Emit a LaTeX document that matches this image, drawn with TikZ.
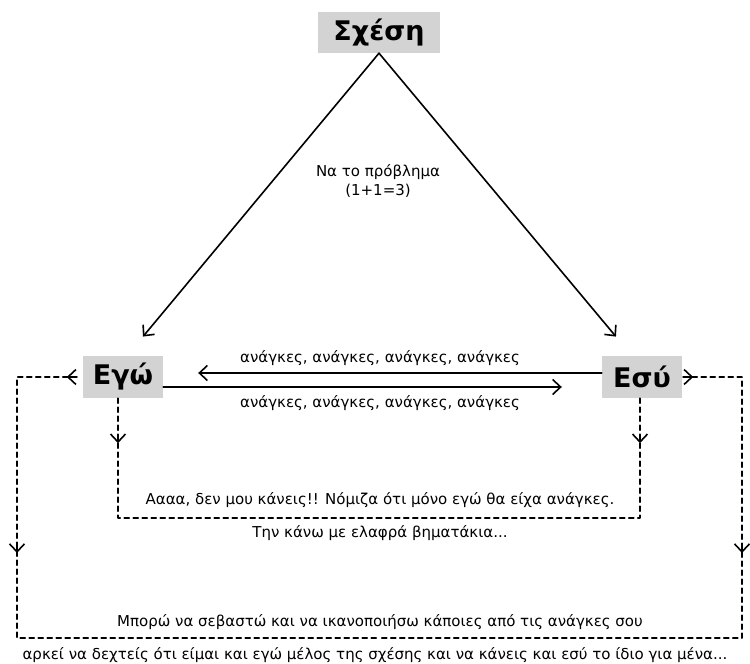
\documentclass[tikz,border=0pt]{standalone}
\usepackage{fontspec}
\setmainfont{DejaVu Sans}
\usetikzlibrary{arrows.meta}

\definecolor{boxgray}{RGB}{211,211,211}
\tikzset{
  person/.style={fill=boxgray, minimum width=80pt, minimum height=42pt, inner sep=0pt,
    font=\fontsize{27}{30}\selectfont\bfseries},
  msg/.style={inner sep=1pt, font=\fontsize{15}{19}\selectfont},
  solidline/.style={line width=1.6pt},
  dashline/.style={line width=1.6pt, dash pattern=on 5pt off 4pt},
  midtip/.style={solid, line width=1.6pt, ->}
}

\begin{document}
\begin{tikzpicture}[x=1pt, y=1pt, line join=round, line cap=round,
    >={Straight Barb[length=8pt,width=15pt]}]
  \useasboundingbox (0,0) rectangle (750,664);
  % the three boxes
  \node[person, minimum width=122pt, minimum height=41pt] (rel) at (379,631.5) {Σχέση};
  \node[person] (ego) at (123,287) {Εγώ};
  \node[person] (esu) at (642,287) {Εσύ};
  \coordinate (innermid) at (380,146);
  \coordinate (outerleft) at (17,26);
  \coordinate (outerright) at (742,26);
  \coordinate (outermid) at (380,26);

  % triangle
  \draw[->, solidline, shorten >=25pt] (rel.south) -- ([xshift=4]ego.north);
  \draw[->, solidline, shorten >=25pt] (rel.south) -- ([xshift=-10]esu.north);
  \node[msg, align=center] (problem) at (378,483) {Να το πρόβλημα\\(1+1=3)};

  % needs both ways
  \draw[->, solidline, shorten >=35pt] ([yshift=4]esu.west) -- ([yshift=4]ego.east);
  \draw[->, solidline, shorten >=40pt] ([yshift=-10]ego.east) -- ([yshift=-10]esu.west);
  \node[msg] (needsa) at (380,306) {ανάγκες, ανάγκες, ανάγκες, ανάγκες};
  \node[msg] (needsb) at (380,261) {ανάγκες, ανάγκες, ανάγκες, ανάγκες};

  % inner loop
  \draw[dashline] ([xshift=-5]ego.south) |- (innermid);
  \draw[dashline] ([xshift=-2]esu.south) |- (innermid);
  \draw[midtip] ([xshift=-5,yshift=-37]ego.south) -- ([xshift=-5,yshift=-45]ego.south);
  \draw[midtip] ([xshift=-2,yshift=-37]esu.south) -- ([xshift=-2,yshift=-45]esu.south);
  \node[msg] (aaaa) at (380,164) {Αααα, δεν μου κάνεις!! Νόμιζα ότι μόνο εγώ θα είχα ανάγκες.};
  \node[msg] (steps) at (380,131) {Την κάνω με ελαφρά βηματάκια...};

  % outer loop
  \draw[dashline] ([xshift=-6]ego.west) -| (outerleft) -- (outermid);
  \draw[dashline] ([xshift=1]esu.east) -| (outerright) -- (outermid);
  \draw[midtip] ([xshift=-6]ego.west) -- ([xshift=-16]ego.west);
  \draw[midtip] ([xshift=1]esu.east) -- ([xshift=11]esu.east);
  \draw[midtip] ([yshift=93]outerleft) -- ([yshift=85]outerleft);
  \draw[midtip] ([yshift=93]outerright) -- ([yshift=85]outerright);
  \node[msg] (respect) at (380,42) {Μπορώ να σεβαστώ και να ικανοποιήσω κάποιες από τις ανάγκες σου};
  \node[msg] (accept) at (375,9) {αρκεί να δεχτείς ότι είμαι και εγώ μέλος της σχέσης και να κάνεις και εσύ το ίδιο για μένα...};
\end{tikzpicture}
\end{document}
